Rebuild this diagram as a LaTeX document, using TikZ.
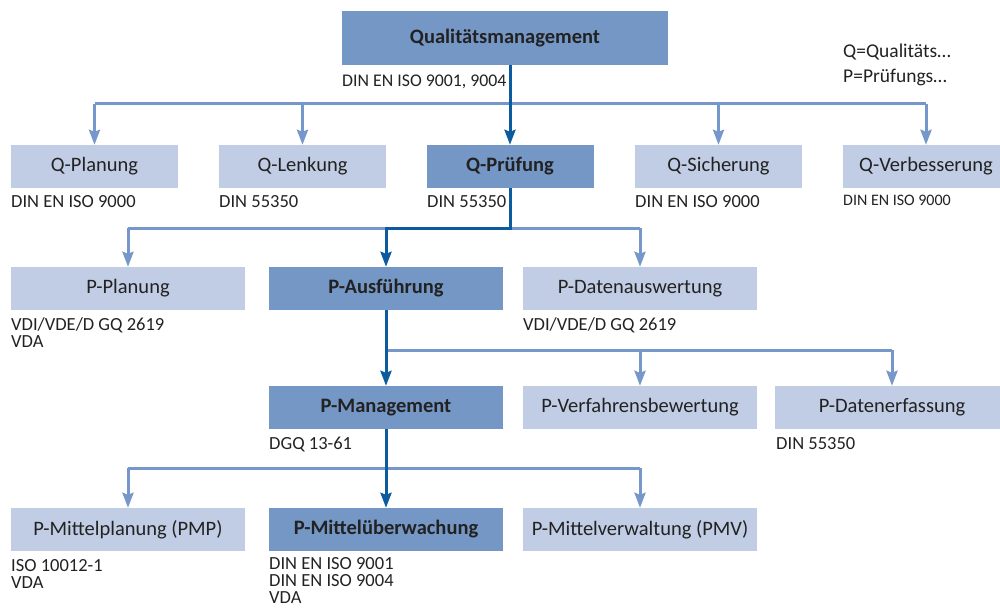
\documentclass[tikz,border=0pt]{standalone}
\usepackage{fontspec}
\setmainfont{Carlito}
\usetikzlibrary{arrows.meta}

\definecolor{fillLight}{HTML}{C1CDE4}
\definecolor{fillDark}{HTML}{7597C6}
\definecolor{lineLight}{HTML}{7597C9}
\definecolor{lineDark}{HTML}{0B5B9E}
\definecolor{ink}{HTML}{222222}

\tikzset{
  boxbase/.style={inner sep=0pt, minimum height=43pt, text=ink,
                  font=\fontsize{20.5}{24}\selectfont},
  lightbox/.style={boxbase, fill=fillLight},
  darkbox/.style={boxbase, fill=fillDark,
                  font=\fontsize{20.5}{24}\selectfont\bfseries},
  qwide/.style={minimum width=167pt},
  pwide/.style={minimum width=234pt},
  % multi-line labels: the base anchor sits on the last line
  lbl/.style={anchor=base west, inner sep=0pt, text=ink, align=left,
              font=\fontsize{18.5}{17}\selectfont},
  lineL/.style={draw=lineLight, line width=3pt},
  lineD/.style={draw=lineDark, line width=3pt, line join=miter},
  arrL/.style={lineL, -{Stealth[length=15pt,width=11pt,inset=2pt]}},
  arrD/.style={lineD, -{Stealth[length=15pt,width=11pt,inset=2pt]}},
}

\begin{document}
\begin{tikzpicture}[x=1pt,y=-1pt]
\useasboundingbox (0,0) rectangle (1000,607);
\clip (0,0) rectangle (1000,607);

% ---- top level
\node[darkbox, minimum width=326pt, minimum height=54pt] (qm) at (505,38) {Qualitätsmanagement};
\node[lbl, font=\fontsize{17.8}{17}\selectfont] (qmL) at (342,87) {DIN EN ISO 9001, 9004};

% legend
\node[lbl, font=\fontsize{19.5}{25}\selectfont] (legQ) at (843,58) {Q=Qualitäts…};
\node[lbl, font=\fontsize{19.5}{25}\selectfont] (legP) at (843,83) {P=Prüfungs…};

% ---- Q level
\node[lightbox, qwide] (qpl) at (94.5,166.5) {Q-Planung};
\node[lightbox, qwide] (qle) at (302.5,166.5) {Q-Lenkung};
\node[darkbox,  qwide] (qpr) at (510,166.5) {Q-Prüfung};
\node[lightbox, qwide] (qsi) at (718.5,166.5) {Q-Sicherung};
\node[lightbox, qwide] (qve) at (926,166.5) {Q-Verbesserung};

\node[lbl] (qplL) at (11,207) {DIN EN ISO 9000};
\node[lbl] (qleL) at (219,207) {DIN 55350};
\node[lbl] (qprL) at (427,207) {DIN 55350};
\node[lbl] (qsiL) at (635,207) {DIN EN ISO 9000};
\node[lbl, font=\fontsize{16}{17}\selectfont] (qveL) at (843,205) {DIN EN ISO 9000};

% ---- P level 1
\node[lightbox, pwide] (ppl) at (128,288.5) {P-Planung};
\node[darkbox,  pwide] (pau) at (386,288.5) {P-Ausführung};
\node[lightbox, pwide] (pda) at (640,288.5) {P-Datenauswertung};

\node[lbl] (pplL) at (11,347) {VDI/VDE/D GQ 2619\\VDA};
\node[lbl] (pdaL) at (523,330) {VDI/VDE/D GQ 2619};

% ---- P level 2
\node[darkbox,  pwide] (pma) at (386,407.5) {P-Management};
\node[lightbox, pwide] (pvb) at (640,407.5) {P-Verfahrensbewertung};
\node[lightbox, pwide] (pde) at (892,407.5) {P-Datenerfassung};

\node[lbl] (pmaL) at (269,449) {DGQ 13-61};
\node[lbl] (pdeL) at (776,449) {DIN 55350};

% ---- P level 3
\node[lightbox, pwide] (pmp) at (128,529.5) {P-Mittelplanung (PMP)};
\node[darkbox,  pwide] (pmu) at (386,529.5) {P-Mittelüberwachung};
\node[lightbox, pwide] (pmv) at (640,529.5) {P-Mittelverwaltung (PMV)};

\node[lbl] (pmpL) at (11,588) {ISO 10012-1\\VDA};
\node[lbl] (pmuL) at (269,603) {DIN EN ISO 9001\\DIN EN ISO 9004\\VDA};

% ---- bus levels
\coordinate (busQ) at (0,104);
\coordinate (busP1) at (0,228);
\coordinate (busP2) at (0,350);
\coordinate (busP3) at (0,468);

% light branches
\draw[lineL] (qpl |- busQ) -- (qve |- busQ);
\foreach \n in {qpl,qle,qsi,qve} \draw[arrL] (\n |- busQ) -- (\n.north);

\draw[lineL] (ppl |- busP1) -- (pda |- busP1);
\foreach \n in {ppl,pda} \draw[arrL] (\n |- busP1) -- (\n.north);

\draw[lineL] (pau |- busP2) -- (pde |- busP2);
\foreach \n in {pvb,pde} \draw[arrL] (\n |- busP2) -- (\n.north);

\draw[lineL] (pmp |- busP3) -- (pmv |- busP3);
\foreach \n in {pmp,pmv} \draw[arrL] (\n |- busP3) -- (\n.north);

% main path
\draw[arrD] (qm.south -| qpr) -- (qpr.north);
\draw[arrD] (qpr.south) -- (qpr |- busP1) -- (pau |- busP1) -- (pau.north);
\draw[arrD] (pau.south) -- (pma.north);
\draw[arrD] (pma.south) -- (pmu.north);
\end{tikzpicture}
\end{document}
